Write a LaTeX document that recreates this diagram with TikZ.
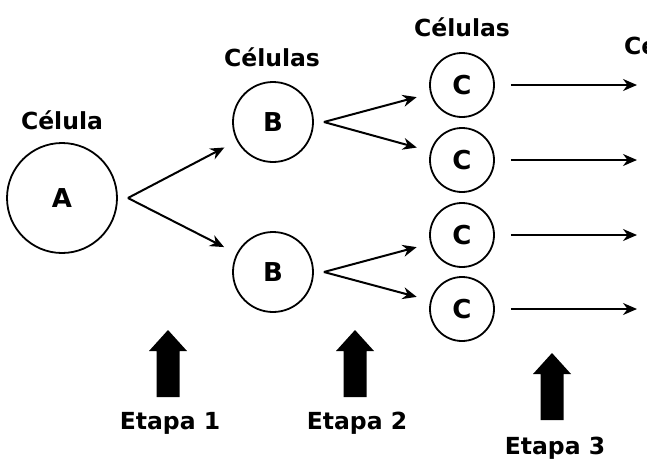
\documentclass[tikz,border=0pt]{standalone}
\usepackage{fontspec}
\setmainfont{DejaVu Sans}
\usetikzlibrary{arrows.meta}

\tikzset{
  cell/.style={circle, draw, line width=1.8pt, inner sep=0pt,
    font=\bfseries\fontsize{26}{26}\selectfont},
  caption/.style={font=\bfseries\fontsize{23.5}{23.5}\selectfont},
  split/.style={-{Stealth[length=14pt,width=12pt]}, line width=2pt},
  bigarrow/.pic={
    \fill (-11.5,0) -- (-11.5,-46) -- (-19,-46) -- (0,-67)
      -- (19,-46) -- (11.5,-46) -- (11.5,0) -- cycle;
  }
}

\begin{document}
\begin{tikzpicture}[x=1pt, y=-1pt, line join=round]

  % Frame of the picture
  \useasboundingbox (0,0) rectangle (647,464);
  \clip (0,0) rectangle (647,464);

  % Define the cells of each generation
  \node[cell, minimum size=110pt] (A) at (62,198) {A};
  \node[cell, minimum size=80pt] (B1) at (273,122) {B};
  \node[cell, minimum size=80pt] (B2) at (273,272) {B};
  \node[cell, minimum size=64pt] (C1) at (462,85) {C};
  \node[cell, minimum size=64pt] (C2) at (462,160) {C};
  \node[cell, minimum size=64pt] (C3) at (462,235) {C};
  \node[cell, minimum size=64pt] (C4) at (462,309) {C};

  % Labels above each generation
  \node[caption] (lab-A) at (62,120) {Célula};
  \node[caption] (lab-B) at (272,57) {Células};
  \node[caption] (lab-C) at (462,27) {Células};
  \node[caption, anchor=west, inner sep=0pt] (lab-D) at (624,45) {Células};

  % Fork points of the divisions
  \coordinate (fork-A) at ([xshift=10pt]A.east);
  \coordinate (fork-B1) at ([xshift=10pt]B1.east);
  \coordinate (fork-B2) at ([xshift=10pt]B2.east);

  % Draw the divisions
  \draw[split, shorten >=14pt] (fork-A) -- (B1);
  \draw[split, shorten >=14pt] (fork-A) -- (B2);
  \draw[split, shorten >=14pt] (fork-B1) -- (C1);
  \draw[split, shorten >=14pt] (fork-B1) -- (C2);
  \draw[split, shorten >=14pt] (fork-B2) -- (C3);
  \draw[split, shorten >=14pt] (fork-B2) -- (C4);

  % Arrows to the next generation
  \foreach \i/\y in {1/85, 2/160, 3/235, 4/309} {
    \coordinate (out-\i) at (637,\y);
    \draw[split, shorten <=16pt] (C\i) -- (out-\i);
  }

  % Stage markers
  \pic at (168,397) {bigarrow};
  \pic at (355,397) {bigarrow};
  \pic at (552,420) {bigarrow};
  \node[caption] (etapa-1) at (170,423) {Etapa 1};
  \node[caption] (etapa-2) at (357,423) {Etapa 2};
  \node[caption] (etapa-3) at (555,448) {Etapa 3};

\end{tikzpicture}
\end{document}
